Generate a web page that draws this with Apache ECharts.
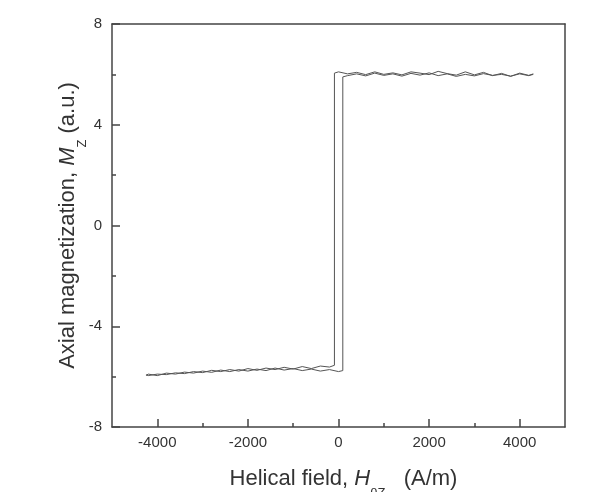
<!DOCTYPE html>
<html>
<head>
<meta charset="utf-8">
<script src="https://cdn.jsdelivr.net/npm/echarts@6/dist/echarts.min.js"></script>
<style>
	html, body { margin: 0; padding: 0; background: #fff; }
	#chart { width: 605px; height: 492px; }
</style>
</head>
<body>
<div id="chart"></div>
<script>
//刻度
var xMajorTicks = [-4000, -2000, 0, 2000, 4000];
var xMinorTicks = [-3000, -1000, 1000, 3000];

//下降支：磁场从正到负
var hDown = [4300, 4200, 4000, 3800, 3600, 3400, 3200, 3000, 2800, 2600, 2400, 2200, 2000, 1800, 1600, 1400, 1200, 1000, 800, 600, 400, 200, 0, -90,
	-90, -200, -400, -600, -800, -1000, -1200, -1400, -1600, -1800, -2000, -2200, -2400, -2600, -2800, -3000, -3200, -3400, -3600, -3800, -4000, -4200, -4250];
var mDown = [6.02, 5.96, 6.05, 5.92, 6.04, 5.95, 6.08, 5.98, 6.1, 5.97, 6.03, 6.12, 5.99, 6.05, 6.1, 5.98, 6.06, 6.0, 6.1, 5.99, 6.08, 6.02, 6.1, 6.05,
	-5.55, -5.62, -5.58, -5.68, -5.6, -5.7, -5.63, -5.72, -5.66, -5.75, -5.68, -5.78, -5.72, -5.8, -5.75, -5.84, -5.8, -5.88, -5.85, -5.92, -5.9, -5.96, -5.93];

//上升支：磁场从负到正
var hUp = [-4250, -4200, -4000, -3800, -3600, -3400, -3200, -3000, -2800, -2600, -2400, -2200, -2000, -1800, -1600, -1400, -1200, -1000, -800, -600, -400, -200, 0, 95,
	95, 200, 400, 600, 800, 1000, 1200, 1400, 1600, 1800, 2000, 2200, 2400, 2600, 2800, 3000, 3200, 3400, 3600, 3800, 4000, 4200, 4300];
var mUp = [-5.95, -5.9, -5.96, -5.86, -5.9, -5.82, -5.86, -5.78, -5.83, -5.74, -5.8, -5.72, -5.78, -5.7, -5.76, -5.66, -5.74, -5.68, -5.76, -5.7, -5.78, -5.72, -5.8, -5.76,
	5.9, 5.95, 6.02, 5.94, 6.05, 5.96, 6.02, 5.93, 6.04, 5.97, 6.06, 5.95, 6.02, 5.92, 6.0, 5.94, 6.03, 5.96, 6.0, 5.93, 6.02, 5.95, 6.0];

function zip(xs, ys) {
	var out = [];
	for (var i = 0; i < xs.length; i++) {
		out.push([xs[i], ys[i]]);
	}
	return out;
}

var lineColor = '#444';
var labelStyle = { color: '#333', fontSize: 15, fontFamily: 'Liberation Sans', formatter: function(v) { return String(v); } };
//坐标轴标题：斜体字母加下标
var titleRich = {
	t: { fontSize: 22, lineHeight: 26, verticalAlign: 'top', fontFamily: 'Liberation Sans', color: '#333' },
	i: { fontSize: 22, lineHeight: 26, verticalAlign: 'top', fontStyle: 'italic', fontFamily: 'Liberation Sans', color: '#333' },
	s: { fontSize: 13, lineHeight: 32, verticalAlign: 'bottom', fontFamily: 'Liberation Sans', color: '#333' }
};

var myChart = echarts.init(document.getElementById('chart'));
var option = {
	backgroundColor: '#fff',
	animation: false,
	grid: { left: 112, top: 24, right: 40, bottom: 65, outerBoundsMode: 'none' },
	xAxis: [{
		type: 'value', position: 'bottom', min: -5000, max: 5000,
		splitLine: { show: false },
		axisLine: { show: true, onZero: false, lineStyle: { color: lineColor, width: 1.5 } },
		axisTick: { show: true, inside: true, length: 8, customValues: xMajorTicks, lineStyle: { color: lineColor, width: 1.5 } },
		axisLabel: { customValues: xMajorTicks, margin: 8, ...labelStyle },
		name: '{t|Helical field, }{i|H}{s|θZ}{t|   (A/m)}',
		nameLocation: 'middle', nameGap: 41, nameMoveOverlap: false,
		nameTextStyle: { fontSize: 22, fontFamily: 'Liberation Sans', color: '#333', padding: [0, 0, 0, 10], rich: titleRich }
	}, {
		type: 'value', position: 'bottom', min: -5000, max: 5000,
		splitLine: { show: false },
		axisLine: { show: false, onZero: false },
		axisTick: { show: true, inside: true, length: 4, customValues: xMinorTicks, lineStyle: { color: lineColor, width: 1.5 } },
		axisLabel: { show: false }
	}, {
		type: 'value', position: 'top', min: -5000, max: 5000,
		splitLine: { show: false },
		axisLine: { show: true, onZero: false, lineStyle: { color: lineColor, width: 1.5 } },
		axisTick: { show: false }, axisLabel: { show: false }
	}],
	yAxis: [{
		type: 'value', position: 'left', min: -8, max: 8, interval: 4,
		splitLine: { show: false },
		axisLine: { show: true, onZero: false, lineStyle: { color: lineColor, width: 1.5 } },
		axisTick: { show: true, inside: true, length: 8, lineStyle: { color: lineColor, width: 1.5 } },
		minorTick: { show: true, splitNumber: 2, length: 4, lineStyle: { color: lineColor, width: 1.5 } },
		axisLabel: { margin: 10, ...labelStyle },
		name: '{t|Axial magnetization, }{i|M}{s|Z}{t| (a.u.)}',
		nameLocation: 'middle', nameGap: 23, nameMoveOverlap: false,
		nameTextStyle: { fontSize: 22, fontFamily: 'Liberation Sans', color: '#333', rich: titleRich }
	}, {
		type: 'value', position: 'right', min: -8, max: 8,
		splitLine: { show: false },
		axisLine: { show: true, onZero: false, lineStyle: { color: lineColor, width: 1.5 } },
		axisTick: { show: false }, axisLabel: { show: false }
	}],
	series: [{
		type: 'line', xAxisIndex: 0, yAxisIndex: 0,
		data: zip(hDown, mDown), showSymbol: false,
		lineStyle: { color: '#555', width: 1 }
	}, {
		type: 'line', xAxisIndex: 0, yAxisIndex: 0,
		data: zip(hUp, mUp), showSymbol: false,
		lineStyle: { color: '#555', width: 1 }
	}]
};
myChart.setOption(option);
</script>
</body>
</html>
